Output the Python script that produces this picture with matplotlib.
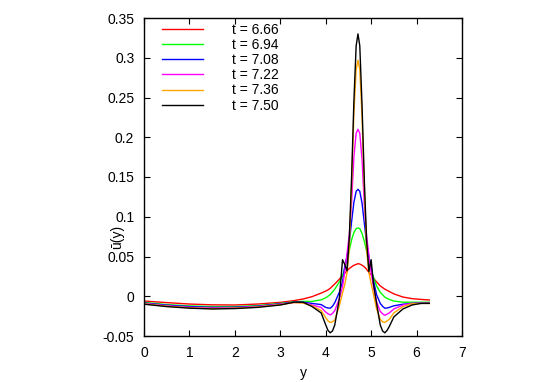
import matplotlib
matplotlib.use("Agg")
import matplotlib.pyplot as plt

# grid in y (common to all curves)
y = [0.0, 0.5, 1.0, 1.5, 2.0, 2.5, 3.0, 3.3, 3.5, 3.7, 3.9, 4.0, 4.05, 4.1, 4.15, 4.2, 4.3, 4.37,
     4.42, 4.47, 4.52, 4.57, 4.62, 4.67, 4.71, 4.75, 4.80, 4.85, 4.90, 4.95, 5.00,
     5.05, 5.12, 5.2, 5.25, 5.3, 5.35, 5.4, 5.5, 5.7, 5.9, 6.1, 6.28]

u_666 = [-0.006, -0.008, -0.0098, -0.0108, -0.011, -0.0098, -0.0077, -0.0055, -0.0035, -0.0005, 0.004, 0.0065, 0.008, 0.010, 0.0128, 0.0155, 0.0215, 0.026,
         0.029, 0.032, 0.035, 0.037, 0.039, 0.040, 0.041, 0.0405, 0.039, 0.037, 0.034, 0.030, 0.027,
         0.023, 0.018, 0.013, 0.011, 0.009, 0.0075, 0.006, 0.003, -0.001, -0.003, -0.004, -0.0047]
u_694 = [-0.0077, -0.0105, -0.0122, -0.013, -0.013, -0.0118, -0.009, -0.007, -0.0065, -0.0065, -0.0045, -0.002, 0.0, 0.002, 0.0055, 0.009, 0.018, 0.026,
         0.035, 0.046, 0.058, 0.071, 0.080, 0.085, 0.086, 0.085, 0.079, 0.069, 0.057, 0.045, 0.034,
         0.024, 0.013, 0.005, 0.002, -0.001, -0.0028, -0.004, -0.006, -0.0075, -0.0075, -0.0075, -0.0075]
u_708 = [-0.0085, -0.0112, -0.013, -0.014, -0.0138, -0.0125, -0.0095, -0.0075, -0.0075, -0.009, -0.0105, -0.014, -0.0148, -0.015, -0.0125, -0.008, 0.005, 0.018,
         0.038, 0.050, 0.068, 0.094, 0.118, 0.132, 0.1345, 0.132, 0.117, 0.092, 0.067, 0.049, 0.036,
         0.020, 0.002, -0.009, -0.0125, -0.015, -0.0148, -0.014, -0.012, -0.010, -0.009, -0.0085, -0.0085]
u_722 = [-0.009, -0.012, -0.014, -0.0148, -0.0145, -0.013, -0.010, -0.0078, -0.008, -0.011, -0.014, -0.020, -0.022, -0.0235, -0.0215, -0.018, -0.003, 0.012,
         0.031, 0.054, 0.078, 0.118, 0.175, 0.205, 0.210, 0.205, 0.172, 0.115, 0.076, 0.052, 0.030,
         0.012, -0.007, -0.019, -0.022, -0.024, -0.0225, -0.021, -0.016, -0.011, -0.009, -0.0088, -0.0088]
u_736 = [-0.0095, -0.0125, -0.0145, -0.0155, -0.015, -0.0135, -0.0105, -0.008, -0.0085, -0.012, -0.018, -0.027, -0.031, -0.033, -0.032, -0.030, -0.012, 0.004,
         0.015, 0.030, 0.060, 0.140, 0.230, 0.285, 0.297, 0.285, 0.225, 0.135, 0.058, 0.030, 0.016,
         0.003, -0.016, -0.029, -0.032, -0.033, -0.031, -0.029, -0.021, -0.013, -0.0095, -0.009, -0.009]
u_750 = [-0.010, -0.013, -0.015, -0.016, -0.0155, -0.014, -0.011, -0.0075, -0.0075, -0.013, -0.021, -0.036, -0.043, -0.046, -0.0435, -0.036, -0.003, 0.046,
         0.040, 0.032, 0.075, 0.150, 0.245, 0.315, 0.330, 0.315, 0.240, 0.145, 0.070, 0.031, 0.046,
         0.016, -0.009, -0.036, -0.0435, -0.046, -0.043, -0.038, -0.026, -0.016, -0.011, -0.009, -0.009]

labels = ["t = 6.66", "t = 6.94", "t = 7.08", "t = 7.22", "t = 7.36", "t = 7.50"]
series = [u_666, u_694, u_708, u_722, u_736, u_750]
colors = ["#ff0000", "#00ff00", "#0000ff", "#ff00ff", "#ffa500", "#000000"]

plt.rcParams['font.family'] = ['Liberation Sans', 'DejaVu Sans']

fig = plt.figure(figsize=(5.45, 3.82), dpi=100)
ax = fig.add_axes([144 / 545, 1 - 336 / 382, 318 / 545, 318 / 382])

for vals, lab, c in zip(series, labels, colors):
    ax.plot(y, vals, color=c, lw=1.0, label=lab)

ax.set_xlim(0, 7)
ax.set_ylim(-0.05, 0.35)
ax.set_xticks(range(0, 8))
ax.set_yticks([-0.05, 0, 0.05, 0.1, 0.15, 0.2, 0.25, 0.3, 0.35])
ax.set_yticklabels(["-0.05", "0", "0.05", "0.1", "0.15", "0.2", "0.25", "0.3", "0.35"])
ax.tick_params(direction="in", length=4, width=0.8, top=True, right=True,
               labelsize=10, pad=7)
for s in ax.spines.values():
    s.set_linewidth(1.0)

ax.set_xlabel("y", fontsize=10)
ax.xaxis.set_label_coords(0.5, (336 - 366) / 318)
ax.set_ylabel("ū(y)", fontsize=10)
ax.yaxis.set_label_coords((124 - 144) / 318, (336 - 237) / 318)

leg = ax.legend(loc="upper left", bbox_to_anchor=(162 / 545, 1 - 23 / 382),
                bbox_transform=fig.transFigure, frameon=False, fontsize=10,
                handlelength=2.95, handletextpad=2.1, labelspacing=0.08,
                borderpad=0, borderaxespad=0)

fig.savefig("out.png", dpi=100)
